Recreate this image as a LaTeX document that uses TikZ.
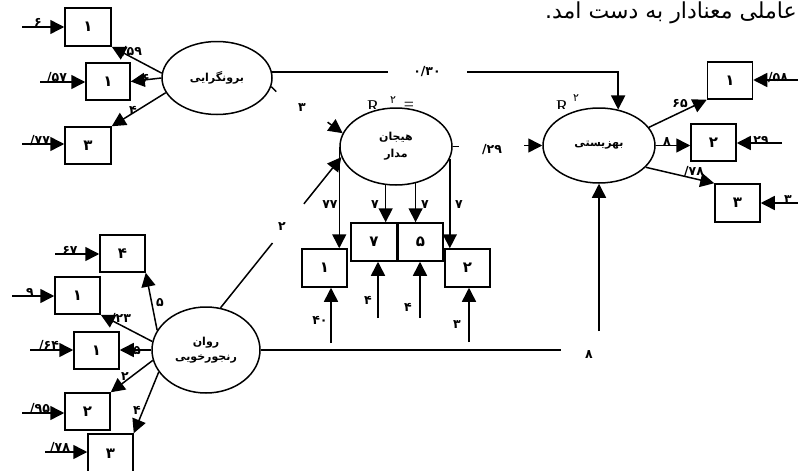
\documentclass[tikz,border=0pt]{standalone}
\usepackage{fontspec}
\setmainfont{Liberation Serif}
\newfontfamily\arabicfont[Script=Arabic]{DejaVu Sans}
\newfontfamily\digfont{DejaVu Sans}
\TeXXeTstate=1
\usetikzlibrary{arrows.meta,shapes.geometric,calc}
\newcommand\pdig{\digfont\bfseries\fontsize{12.5}{13}\selectfont}
\newcommand\bdig{\digfont\bfseries\fontsize{15}{16}\selectfont}
\newcommand\plab{\arabicfont\bfseries\fontsize{11}{14}\selectfont}
\begin{document}
\begin{tikzpicture}[x=1pt,y=-1pt,
  ln/.style={line width=1.5pt},
  arr/.style={line width=1.5pt,-{Triangle[length=14pt,width=14pt]}},
  obs/.style={draw,line width=1.5pt,minimum width=45pt,minimum height=37pt,inner sep=0pt,font=\bdig},
  lat/.style={draw,ellipse,line width=1.5pt,fill=white,inner sep=0pt,font=\plab,align=center},
  num/.style={inner sep=0pt,font=\pdig},
  rr/.style={inner sep=0pt,font=\fontsize{18}{20}\selectfont},
  sup/.style={inner sep=0pt,font=\digfont\fontsize{11}{12}\selectfont},
]
\useasboundingbox (0,0) rectangle (798,471);

% top sentence
\node[anchor=base east,inner sep=0pt,font=\arabicfont\fontsize{22}{24}\selectfont] (top) at (797,18) {\beginR عاملی معنادار به دست آمد.\endR};

% R^2 labels
\begin{scope}
\clip (355,90) rectangle (390,108);
\node[rr,anchor=base] (Rh) at (373,112) {R};
\end{scope}
\node[sup] (Rhs) at (393,100) {۲};
\node[rr] (Rhe) at (409,106) {=};
\begin{scope}
\clip (550,90) rectangle (572,108);
\node[rr,anchor=base] (Rb) at (562,112) {R};
\end{scope}
\node[sup] (Rbs) at (576,98) {۲};

% latent variables
\node[lat,minimum width=110pt,minimum height=73pt] (Ebur) at (217,78) {\beginR برونگرایی\endR};
\node[lat,minimum width=112pt,minimum height=77pt] (Ehij) at (396,146.5) {\beginR هیجان\endR\\[3pt]\beginR مدار\endR};
\node[lat,minimum width=112pt,minimum height=75pt] (Ebeh) at (599,145.5) {\beginR بهزیستی\endR};
\node[lat,minimum width=108pt,minimum height=86pt] (Erav) at (206,350) {\beginR روان\endR\\[1pt]\beginR رنجورخویی\endR};

% observed boxes
\node[obs,minimum width=46pt,minimum height=38pt] (A1) at (88,27) {۱};
\node[obs,minimum width=44pt] (A2) at (108,81.5) {۱};
\node[obs,minimum width=46pt] (A3) at (88,145.5) {۳};
\node[obs] (B1) at (730,80.5) {۱};
\node[obs] (B2) at (713.5,142.5) {۲};
\node[obs,minimum height=38pt] (B3) at (737.5,203) {۳};
\node[obs,minimum height=38pt] (H1) at (324.5,268) {۱};
\node[obs,minimum width=46pt,minimum height=38pt] (H2) at (374,242) {۷};
\node[obs,minimum height=38pt] (H3) at (420.5,242) {۵};
\node[obs,minimum height=38pt] (H4) at (467.5,268) {۲};
\node[obs] (R1) at (122.5,253.5) {۴};
\node[obs] (R2) at (77.5,295.5) {۱};
\node[obs] (R3) at (96.5,350.5) {۱};
\node[obs] (R4) at (87.5,411.5) {۲};
\node[obs,minimum height=40pt] (R5) at (110.5,454) {۳};

% extraversion loadings
\draw[arr] (Ebur.175) -- (A1.south east);
\draw[arr] (Ebur.180) -- (A2.east);
\draw[arr] (Ebur.196) -- (A3.north east);
\node[num] (la1) at (132,52) {/۵۹};
\node[num] (la2) at (146,78) {۶};
\node[num] (la3) at (133,110) {۴};
\coordinate (a1in) at (22,27);
\coordinate (a2in) at (40,82);
\coordinate (a3in) at (22,144);
\draw[arr] (a1in) -- (a1in -| A1.west);
\draw[arr] (a2in) -- (a2in -| A2.west);
\draw[arr] (a3in) -- (a3in -| A3.west);
\node[num] (ea1) at (38,22) {۶};
\node[num] (ea2) at (57,78) {/۵۷};
\node[num] (ea3) at (40,141) {/۷۷};

% extraversion -> wellbeing
\coordinate (g1) at (388,0);
\coordinate (g2) at (467,0);
\draw[ln] (Ebur.6) -- (Ebur.6 -| g1);
\node[num] (p030) at (427,72) {۰/۳۰};
\draw[arr] (Ebur.6 -| g2) -| (Ebeh.62);
% extraversion -> emotion (fragment)
\draw[ln] (Ebur.-9) -- ++(5,5);
\path (Ehij.166) ++(-15,-11) coordinate (hs);
\draw[arr] (hs) -- (Ehij.166);
\node[num] (p3) at (302,108) {۳};

% neuroticism -> emotion
\draw[ln] (Erav.71) -- ($(Erav.71)!0.43!(Ehij.191)$);
\draw[arr] ($(Erav.71)!0.69!(Ehij.191)$) -- (Ehij.191);
\node[num] (p2) at (282,227) {۲};

% neuroticism -> wellbeing
\coordinate (g3) at (561,0);
\coordinate (g4) at (0,331);
\draw[ln] (Erav.east) -- (Erav.east -| g3);
\draw[arr] (Ebeh.south |- g4) -- (Ebeh.south);
\node[num] (p8) at (589,355) {۸};

% emotion -> wellbeing
\draw[ln] (Ehij.east) -- ++(6,0);
\path (Ebeh.west) ++(-18,0) coordinate (hb);
\draw[arr] (hb) -- (Ebeh.west);
\node[num] (p29) at (492,150) {/۲۹};

% emotion loadings
\draw[arr] (Ehij.west) -- (Ehij.west |- H1.north);
\draw[arr] (Ehij.255) -- (Ehij.255 |- H2.north);
\draw[arr] (Ehij.298) -- (Ehij.298 |- H3.north);
\draw[arr] (Ehij.347) -- (Ehij.347 |- H4.north);
\node[num] (lh1) at (330,205) {۷۷};
\node[num] (lh2) at (375,205) {۷};
\node[num] (lh3) at (425,205) {۷};
\node[num] (lh4) at (459,205) {۷};
\coordinate (h1in) at (331,343);
\coordinate (h2in) at (378,318);
\coordinate (h3in) at (420,318);
\coordinate (h4in) at (469,342);
\draw[arr] (h1in) -- (h1in |- H1.south);
\draw[arr] (h2in) -- (h2in |- H2.south);
\draw[arr] (h3in) -- (h3in |- H3.south);
\draw[arr] (h4in) -- (h4in |- H4.south);
\node[num] (eh1) at (320,320) {۴۰};
\node[num] (eh2) at (368,300) {۴};
\node[num] (eh3) at (408,307) {۴};
\node[num] (eh4) at (457,325) {۳};

% wellbeing loadings
\draw[arr] (Ebeh.20) -- (B1.south west);
\draw[arr] (Ebeh.east) -- (Ebeh.east -| B2.west);
\draw[arr] (Ebeh.-25) -- (B3.north west);
\node[num] (lb1) at (680,104) {۶۵};
\node[num] (lb2) at (667,142) {۸};
\node[num] (lb3) at (694,172) {/۷۸};
\coordinate (b1in) at (800,80);
\coordinate (b2in) at (782,143);
\coordinate (b3in) at (800,203);
\draw[arr] (b1in) -- (b1in -| B1.east);
\draw[arr] (b2in) -- (b2in -| B2.east);
\draw[arr] (b3in) -- (b3in -| B3.east);
\node[num] (eb1) at (778,78) {/۵۸};
\node[num] (eb2) at (761,140) {۲۹};
\node[num] (eb3) at (788,200) {۳};

% neuroticism loadings
\draw[arr] (Erav.158) -- (R1.south east);
\draw[arr] (Erav.171) -- (R2.south east);
\draw[arr] (Erav.west) -- (Erav.west -| R3.east);
\draw[arr] (Erav.191) -- (R4.north east);
\draw[arr] (Erav.205) -- (R5.north east);
\node[num] (lr1) at (160,303) {۵};
\node[num] (lr2) at (121,319) {/۲۳};
\node[num] (lr3) at (137,351) {۵};
\node[num] (lr4) at (125,377) {۲};
\node[num] (lr5) at (137,410) {۴};
\coordinate (r1in) at (55,254);
\coordinate (r2in) at (12,296);
\coordinate (r3in) at (30,350);
\coordinate (r4in) at (22,413);
\coordinate (r5in) at (45,452);
\draw[arr] (r1in) -- (r1in -| R1.west);
\draw[arr] (r2in) -- (r2in -| R2.west);
\draw[arr] (r3in) -- (r3in -| R3.west);
\draw[arr] (r4in) -- (r4in -| R4.west);
\draw[arr] (r5in) -- (r5in -| R5.west);
\node[num] (er1) at (70,250) {۶۷};
\node[num] (er2) at (30,292) {۹};
\node[num] (er3) at (49,346) {/۶۴};
\node[num] (er4) at (40,409) {/۹۵};
\node[num] (er5) at (60,448) {/۷۸};
\end{tikzpicture}
\end{document}
